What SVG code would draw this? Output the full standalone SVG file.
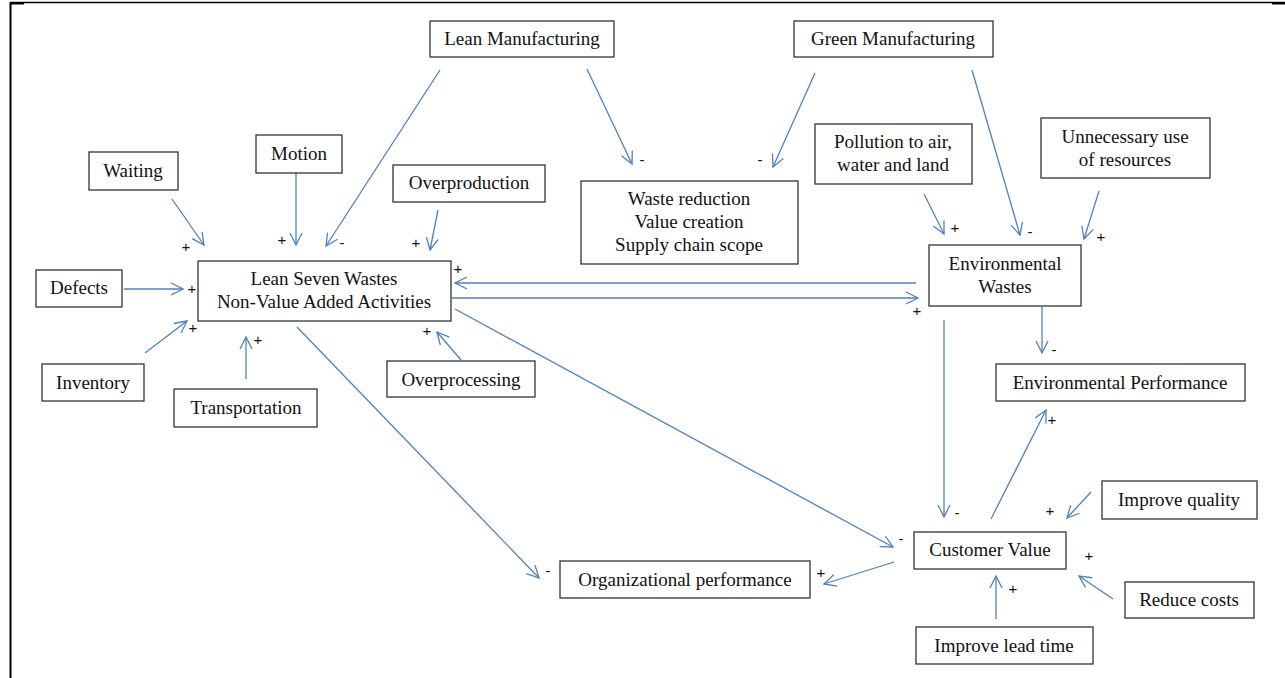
<svg xmlns="http://www.w3.org/2000/svg" width="1285" height="678" viewBox="0 0 1285 678">
<defs>
<style>
.box{fill:#fff;stroke:#333;stroke-width:1.3}
.t{font-family:"Liberation Serif","Times New Roman",serif;font-size:19px;fill:#111;text-anchor:middle}
.s{font-family:"Liberation Sans",Arial,sans-serif;font-size:15px;fill:#111;text-anchor:middle}
.c{stroke:#4F81BD;stroke-width:1.3;fill:none;marker-end:url(#ah)}
</style>
<marker id="ah" markerUnits="userSpaceOnUse" viewBox="0 0 14 14" refX="13" refY="7" markerWidth="14" markerHeight="14" orient="auto">
<path d="M1,1 L13,7 L1,13" fill="none" stroke="#4F81BD" stroke-width="1.3"/>
</marker>
</defs>
<rect width="1285" height="678" fill="#fff"/>
<g id="frame">
<line x1="10.5" y1="2" x2="10.5" y2="678" stroke="#000" stroke-width="2"/>
<line x1="10" y1="2.5" x2="1285" y2="2.5" stroke="#000" stroke-width="1.5"/>
<rect x="1272" y="2" width="13" height="2.5" fill="#000"/>
<rect x="10" y="2" width="14" height="2.5" fill="#000"/>
</g>
<g id="connectors">
<line class="c" x1="172" y1="199" x2="204" y2="245"/>
<line class="c" x1="296" y1="173" x2="296" y2="245"/>
<line class="c" x1="440" y1="70" x2="326" y2="246"/>
<line class="c" x1="438" y1="210" x2="430" y2="250"/>
<line class="c" x1="124" y1="289" x2="183" y2="289"/>
<line class="c" x1="145" y1="353" x2="187" y2="321"/>
<line class="c" x1="246" y1="379" x2="246" y2="337"/>
<line class="c" x1="461" y1="360" x2="437" y2="332"/>
<line class="c" x1="587" y1="69" x2="632" y2="164"/>
<line class="c" x1="815" y1="73" x2="773" y2="167"/>
<line class="c" x1="972" y1="70" x2="1020" y2="235"/>
<line class="c" x1="924" y1="194" x2="944" y2="234"/>
<line class="c" x1="1099" y1="191" x2="1084" y2="239"/>
<line class="c" x1="916" y1="283" x2="455" y2="283"/>
<line class="c" x1="452" y1="298" x2="918" y2="298"/>
<line class="c" x1="1042" y1="307" x2="1042" y2="353"/>
<line class="c" x1="944" y1="320" x2="944" y2="517"/>
<line class="c" x1="991" y1="519" x2="1046" y2="410"/>
<line class="c" x1="455" y1="309" x2="893" y2="547"/>
<line class="c" x1="297" y1="327" x2="539" y2="578"/>
<line class="c" x1="894" y1="562" x2="824" y2="584"/>
<line class="c" x1="1091" y1="492" x2="1067" y2="518"/>
<line class="c" x1="1113" y1="599" x2="1079" y2="576"/>
<line class="c" x1="996" y1="619" x2="996" y2="576"/>
</g>
<g id="signs">
<text class="s" x="186" y="252">+</text>
<text class="s" x="282" y="245">+</text>
<text class="s" x="342" y="248">-</text>
<text class="s" x="416" y="248">+</text>
<text class="s" x="192" y="294">+</text>
<text class="s" x="193" y="333">+</text>
<text class="s" x="258" y="345">+</text>
<text class="s" x="427" y="336">+</text>
<text class="s" x="458" y="274">+</text>
<text class="s" x="642" y="165">-</text>
<text class="s" x="760" y="165">-</text>
<text class="s" x="955" y="233">+</text>
<text class="s" x="1030" y="237">-</text>
<text class="s" x="1101" y="242">+</text>
<text class="s" x="917" y="316">+</text>
<text class="s" x="1054" y="355">-</text>
<text class="s" x="957" y="518">-</text>
<text class="s" x="1052" y="425">+</text>
<text class="s" x="901" y="544">-</text>
<text class="s" x="548" y="576">-</text>
<text class="s" x="821" y="578">+</text>
<text class="s" x="1050" y="516">+</text>
<text class="s" x="1089" y="561">+</text>
<text class="s" x="1013" y="594">+</text>
</g>
<g id="lean-manufacturing"><rect class="box" x="430" y="21" width="184" height="36"/><text class="t" x="522" y="45">Lean Manufacturing</text></g>
<g id="green-manufacturing"><rect class="box" x="794" y="21" width="199" height="36"/><text class="t" x="893" y="45">Green Manufacturing</text></g>
<g id="waiting"><rect class="box" x="89" y="152" width="89" height="38"/><text class="t" x="133" y="177">Waiting</text></g>
<g id="motion"><rect class="box" x="256" y="135" width="86" height="38"/><text class="t" x="299" y="160">Motion</text></g>
<g id="overproduction"><rect class="box" x="393" y="165" width="152" height="37"/><text class="t" x="469" y="189">Overproduction</text></g>
<g id="waste-reduction"><rect class="box" x="581" y="181" width="217" height="83"/><text class="t" x="689" y="205">Waste reduction</text><text class="t" x="689" y="228">Value creation</text><text class="t" x="689" y="251">Supply chain scope</text></g>
<g id="pollution"><rect class="box" x="815" y="124" width="157" height="60"/><text class="t" x="893" y="148">Pollution to air,</text><text class="t" x="893" y="171">water and land</text></g>
<g id="unnecessary"><rect class="box" x="1041" y="118" width="169" height="60"/><text class="t" x="1125" y="143">Unnecessary use</text><text class="t" x="1125" y="166">of resources</text></g>
<g id="environmental-wastes"><rect class="box" x="929" y="245" width="152" height="61"/><text class="t" x="1005" y="270">Environmental</text><text class="t" x="1005" y="293">Wastes</text></g>
<g id="environmental-performance"><rect class="box" x="996" y="364" width="249" height="37"/><text class="t" x="1120" y="389">Environmental Performance</text></g>
<g id="defects"><rect class="box" x="36" y="270" width="86" height="37"/><text class="t" x="79" y="294">Defects</text></g>
<g id="lean-seven-wastes"><rect class="box" x="198" y="261" width="253" height="60"/><text class="t" x="324" y="285">Lean Seven Wastes</text><text class="t" x="324" y="308">Non-Value Added Activities</text></g>
<g id="inventory"><rect class="box" x="42" y="364" width="102" height="37"/><text class="t" x="93" y="389">Inventory</text></g>
<g id="transportation"><rect class="box" x="174" y="389" width="143" height="38"/><text class="t" x="246" y="414">Transportation</text></g>
<g id="overprocessing"><rect class="box" x="387" y="361" width="148" height="36"/><text class="t" x="461" y="386">Overprocessing</text></g>
<g id="organizational-performance"><rect class="box" x="560" y="561" width="250" height="37"/><text class="t" x="685" y="586">Organizational performance</text></g>
<g id="customer-value"><rect class="box" x="914" y="532" width="152" height="37"/><text class="t" x="990" y="556">Customer Value</text></g>
<g id="improve-quality"><rect class="box" x="1102" y="481" width="155" height="38"/><text class="t" x="1179" y="506">Improve quality</text></g>
<g id="reduce-costs"><rect class="box" x="1125" y="582" width="129" height="36"/><text class="t" x="1189" y="606">Reduce costs</text></g>
<g id="improve-lead-time"><rect class="box" x="916" y="627" width="177" height="37"/><text class="t" x="1004" y="652">Improve lead time</text></g>
</svg>
